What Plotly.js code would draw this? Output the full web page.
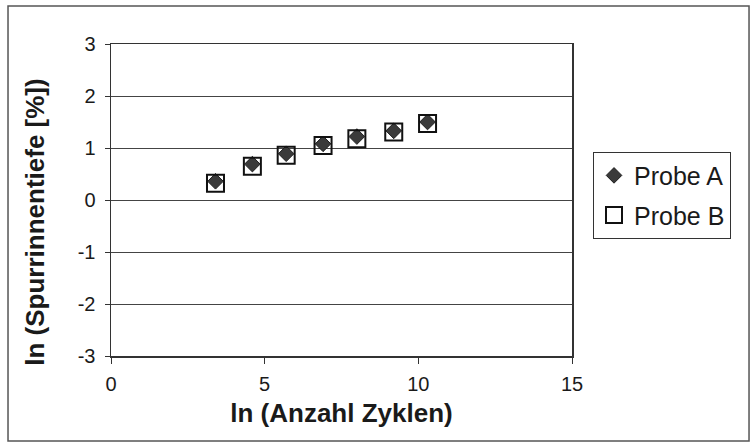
<!DOCTYPE html>
<html>
<head>
<meta charset="utf-8">
<script src="https://cdn.plot.ly/plotly-3.0.1.min.js"></script>
<style>
html,body{margin:0;padding:0;background:#fff;}
#chart{width:754px;height:443px;}
</style>
</head>
<body>
<div id="chart"></div>
<script>
// ln(number of cycles)
const lnZyklen = [3.4, 4.6, 5.7, 6.9, 8.0, 9.2, 10.3];
// ln(rut depth [%])
const probeA = [0.36, 0.69, 0.89, 1.08, 1.22, 1.33, 1.50];
const probeB = [0.32, 0.65, 0.86, 1.05, 1.18, 1.31, 1.47];
const xTicks = [0, 5, 10, 15];
const yTicks = [-3, -2, -1, 0, 1, 2, 3];
const yTickText = ['-3', '-2', '-1', '0', '1', '2', '3'];

const traces = [
  {
    x: lnZyklen, y: probeA, name: 'Probe A', type: 'scatter', mode: 'markers',
    legendgroup: 'a',
    marker: {symbol: 'diamond', size: 12, color: '#3a3a3a', line: {color: '#1e1e1e', width: 1}}
  },
  {
    x: lnZyklen, y: probeB, name: 'Probe B', type: 'scatter', mode: 'markers',
    legendgroup: 'b',
    marker: {symbol: 'square-open', size: 17, color: '#111', line: {color: '#111', width: 2}}
  }
];

const layout = {
  width: 754, height: 443,
  margin: {l: 111, r: 182, t: 44, b: 87},
  paper_bgcolor: '#fff', plot_bgcolor: '#fff',
  font: {family: 'Liberation Sans, Arial, sans-serif', color: '#1a1a1a', size: 20},
  showlegend: true,
  legend: {
    x: 1.0456, y: 0.655, xanchor: 'left', yanchor: 'top',
    bordercolor: '#333', borderwidth: 1, bgcolor: '#fff',
    font: {size: 25, color: '#1a1a1a'},
    traceorder: 'grouped', tracegroupgap: 4,
    itemwidth: 30
  },
  xaxis: {
    range: [0, 15], tickvals: xTicks, ticks: 'outside', ticklen: 6, tickcolor: '#333',
    ticklabelstandoff: 3,
    showgrid: false, zeroline: false,
    showline: true, linecolor: '#333', linewidth: 1.5, mirror: true,
    tickfont: {size: 20},
    title: {text: '<b>ln (Anzahl Zyklen)</b>', font: {size: 26}, standoff: 10}
  },
  yaxis: {
    range: [-3, 3], tickvals: yTicks, ticktext: yTickText, ticks: 'outside', ticklen: 5, tickcolor: '#333',
    ticklabelstandoff: 5,
    showgrid: true, gridcolor: '#444', gridwidth: 1, zeroline: false,
    showline: true, linecolor: '#333', linewidth: 1.5, mirror: true,
    tickfont: {size: 20}
  },
  annotations: [{
    text: '<b>ln (Spurrinnentiefe [%])</b>', textangle: -90,
    xref: 'paper', yref: 'paper', x: -0.165, y: 0.43,
    xanchor: 'center', yanchor: 'middle', showarrow: false,
    font: {size: 26, color: '#1a1a1a'}
  }],
  shapes: [{
    type: 'rect', xref: 'paper', yref: 'paper',
    x0: -0.2234, x1: 1.384, y0: -0.2724, y1: 1.1218,
    line: {color: '#555', width: 1.5}, fillcolor: 'rgba(0,0,0,0)'
  }]
};

Plotly.newPlot('chart', traces, layout, {displayModeBar: false, staticPlot: true});
</script>
</body>
</html>
